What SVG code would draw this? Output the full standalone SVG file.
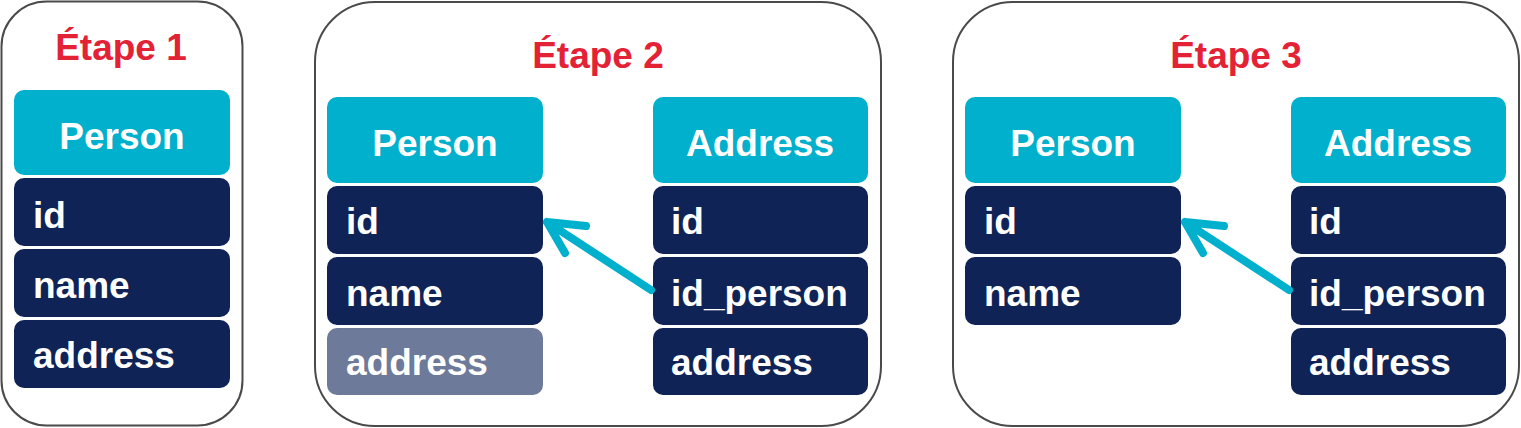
<svg xmlns="http://www.w3.org/2000/svg" width="1521" height="428" viewBox="0 0 1521 428">
<defs>
<style>
.panel{fill:#fff;stroke:#4a4a4a;stroke-width:2}
.hdr{fill:#00b0cc}
.row{fill:#0f2356}
.dim{fill:#6e7a9a}
.t{font-family:"Liberation Sans",Arial,sans-serif;font-weight:bold;font-size:37px;fill:#fff}
.c{text-anchor:middle}
.title{font-family:"Liberation Sans",Arial,sans-serif;font-weight:bold;font-size:37px;fill:#e32236;text-anchor:middle}
.arr{fill:none;stroke:#00b0cc;stroke-width:8;stroke-linecap:round;stroke-linejoin:round}
</style>
</defs>
<rect width="1521" height="428" fill="#fff"/>
<g id="panel1">
<rect class="panel" x="1.5" y="1.5" width="241" height="424" rx="45"/>
<text class="title" x="121" y="60">Étape 1</text>
</g>
<g id="person1">
<rect class="hdr" x="14" y="90" width="216" height="85" rx="10"/>
<text class="t c" x="122" y="149">Person</text>
<rect class="row" x="14" y="178" width="216" height="68" rx="10"/>
<text class="t" x="33" y="228">id</text>
<rect class="row" x="14" y="249" width="216" height="68" rx="10"/>
<text class="t" x="33" y="298">name</text>
<rect class="row" x="14" y="320" width="216" height="68" rx="10"/>
<text class="t" x="33" y="368">address</text>
</g>
<g id="panel2">
<rect class="panel" x="315" y="2" width="566" height="424" rx="60"/>
<text class="title" x="598" y="68">Étape 2</text>
</g>
<g id="person2">
<rect class="hdr" x="327" y="97" width="216" height="86" rx="10"/>
<text class="t c" x="435" y="156">Person</text>
<rect class="row" x="327" y="186" width="216" height="68" rx="10"/>
<text class="t" x="346" y="234">id</text>
<rect class="row" x="327" y="257" width="216" height="68" rx="10"/>
<text class="t" x="346" y="306">name</text>
<rect class="dim" x="327" y="328" width="216" height="67" rx="10"/>
<text class="t" x="346" y="375">address</text>
</g>
<g id="address2">
<rect class="hdr" x="653" y="97" width="215" height="86" rx="10"/>
<text class="t c" x="760" y="156">Address</text>
<rect class="row" x="653" y="186" width="215" height="68" rx="10"/>
<text class="t" x="671" y="234">id</text>
<rect class="row" x="653" y="257" width="215" height="68" rx="10"/>
<text class="t" x="671" y="306">id_person</text>
<rect class="row" x="653" y="328" width="215" height="67" rx="10"/>
<text class="t" x="671" y="375">address</text>
</g>
<g id="panel3">
<rect class="panel" x="953" y="2" width="566" height="424" rx="60"/>
<text class="title" x="1236" y="68">Étape 3</text>
</g>
<g id="person3">
<rect class="hdr" x="965" y="97" width="216" height="86" rx="10"/>
<text class="t c" x="1073" y="156">Person</text>
<rect class="row" x="965" y="186" width="216" height="68" rx="10"/>
<text class="t" x="984" y="234">id</text>
<rect class="row" x="965" y="257" width="216" height="68" rx="10"/>
<text class="t" x="984" y="306">name</text>
</g>
<g id="address3">
<rect class="hdr" x="1291" y="97" width="215" height="86" rx="10"/>
<text class="t c" x="1398" y="156">Address</text>
<rect class="row" x="1291" y="186" width="215" height="68" rx="10"/>
<text class="t" x="1309" y="234">id</text>
<rect class="row" x="1291" y="257" width="215" height="68" rx="10"/>
<text class="t" x="1309" y="306">id_person</text>
<rect class="row" x="1291" y="328" width="215" height="67" rx="10"/>
<text class="t" x="1309" y="375">address</text>
</g>
<g id="connectors">
<path class="arr" d="M651 290 L547 222 M586 226 L547 222 L565 253"/>
<path class="arr" d="M1289 290 L1185 222 M1224 226 L1185 222 L1203 253"/>
</g>
</svg>
